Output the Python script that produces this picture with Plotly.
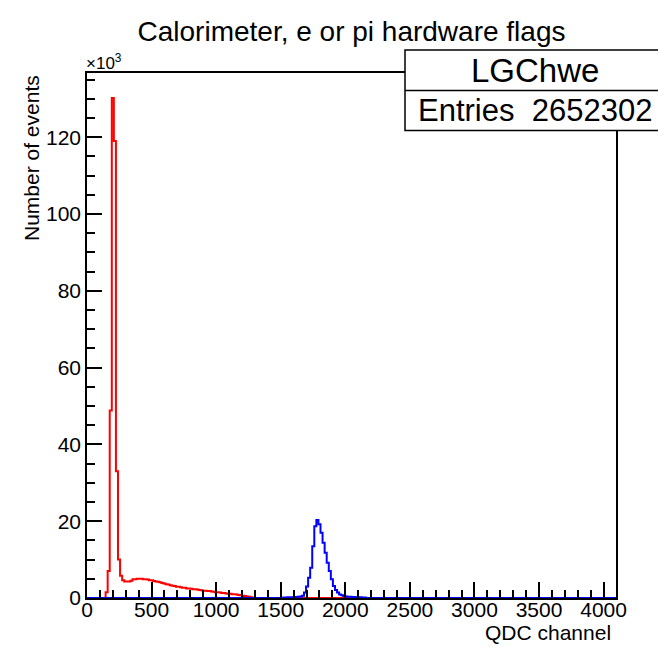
import plotly.graph_objects as go

# ---- data (counts in units of 10^3 events, 16-channel bins) ----
BIN_WIDTH = 16
N_BINS = 256  # 0 .. 4096 QDC channels

RED_START = 144
RED_COUNTS = [1.5, 7.0, 48.8, 130.2, 119.0, 33.0, 10.0, 5.8, 4.6, 4.3,
              4.3, 4.3, 4.5, 4.9, 4.9, 5.0, 5.0, 5.0, 4.9, 4.9,
              4.8, 4.6, 4.6, 4.4, 4.3, 4.2, 4.1, 3.9, 3.8, 3.6,
              3.5, 3.3, 3.2, 3.1, 2.9, 2.9, 2.8, 2.7, 2.7, 2.5,
              2.5, 2.4, 2.3, 2.3, 2.2, 2.1, 2.0, 1.9, 1.9, 1.8,
              1.8, 1.7, 1.6, 1.5, 1.5, 1.4, 1.3, 1.3, 1.2, 1.1,
              1.1, 1.0, 1.0, 0.9, 0.8, 0.7, 0.6, 0.5, 0.4, 0.3,
              0.2]

BLUE_START = 1520
BLUE_COUNTS = [0.15, 0.15, 0.2, 0.2, 0.2, 0.25, 0.25, 0.3, 0.4, 0.6,
               1.4, 3.0, 5.3, 7.9, 13.5, 18.7, 20.3, 19.2, 17.0, 14.4,
               11.8, 9.2, 7.0, 4.9, 3.1, 2.1, 1.4, 0.9, 0.7, 0.5,
               0.4, 0.3, 0.3, 0.25, 0.25, 0.2, 0.2, 0.2, 0.15, 0.15]

X_TICKS = [0, 500, 1000, 1500, 2000, 2500, 3000, 3500, 4000]
Y_TICKS = [0, 20, 40, 60, 80, 100, 120]

TITLE = "Calorimeter, e or pi hardware flags"
X_TITLE = "QDC channel"
Y_TITLE = "Number of events"
HIST_NAME = "LGChwe"
ENTRIES = "2652302"


def full_hist(start, counts):
    vals = [0.0] * N_BINS
    first = start // BIN_WIDTH
    for i, c in enumerate(counts):
        vals[first + i] = c
    edges = [i * BIN_WIDTH for i in range(N_BINS + 1)]
    return edges, vals + [vals[-1]]


FONT = "Liberation Sans, Arial, Helvetica, sans-serif"

fig = go.Figure()
for start, counts, color in [(RED_START, RED_COUNTS, "#ff0000"),
                             (BLUE_START, BLUE_COUNTS, "#0000ff")]:
    xe, ye = full_hist(start, counts)
    fig.add_trace(go.Scatter(x=xe, y=ye, mode="lines", line_shape="hv",
                             line=dict(color=color, width=2),
                             hoverinfo="skip", showlegend=False))

ymax = 1.05 * max(RED_COUNTS)

# page offset caused by default body margin
OFF = 8
W, H = 666 - OFF, 648 - OFF
FL, FR, FT, FB = 87, 616, 73, 598.5   # frame in page pixels
L = FL - OFF
R = W - (FR - OFF)
T = FT - OFF
B = H - (FB - OFF)
pw = W - L - R
ph = H - T - B


def px(x):
    return (x - OFF - L) / pw


def py(y):
    return (H - B - (y - OFF)) / ph


fig.update_layout(
    width=W, height=H, autosize=False,
    margin=dict(l=L, r=R, t=T, b=B, pad=0),
    paper_bgcolor="white", plot_bgcolor="white",
    font=dict(family=FONT, color="black", size=20),
    title=dict(text=TITLE, x=px(351.5), xref="paper", xanchor="center",
               y=1 - (31 - OFF) / H, yanchor="middle",
               font=dict(family=FONT, size=28, color="black")),
    xaxis=dict(range=[0, 4096], tickmode="array", tickvals=X_TICKS,
               ticktext=[str(v) for v in X_TICKS],
               ticks="inside", ticklen=16, tickwidth=1.5, tickcolor="black",
               minor=dict(ticks="inside", ticklen=8, tickwidth=1.5,
                          tickcolor="black", dtick=100, showgrid=False),
               showline=True, linecolor="black", linewidth=1.5, mirror=True,
               showgrid=False, zeroline=False, ticklabelstandoff=-8,
               tickfont=dict(family=FONT, size=21, color="black")),
    yaxis=dict(range=[0, ymax], tickmode="array", tickvals=Y_TICKS,
               ticktext=[str(v) for v in Y_TICKS],
               ticks="inside", ticklen=15, tickwidth=1.5, tickcolor="black",
               minor=dict(ticks="inside", ticklen=8, tickwidth=1.5,
                          tickcolor="black", dtick=5, showgrid=False),
               showline=True, linecolor="black", linewidth=1.5, mirror=True,
               showgrid=False, zeroline=False,
               tickfont=dict(family=FONT, size=21, color="black")),
)

# axis titles (ROOT style: right / top aligned)
fig.add_annotation(text=X_TITLE, xref="paper", yref="paper",
                   x=px(613), y=py(633), xanchor="right", yanchor="middle",
                   showarrow=False, font=dict(family=FONT, size=21))
fig.add_annotation(text=Y_TITLE, xref="paper", yref="paper",
                   x=px(31), y=py(73), xanchor="center", yanchor="top",
                   textangle=-90, showarrow=False, font=dict(family=FONT, size=21))
fig.add_annotation(text="\u00d710<sup>3</sup>", xref="paper", yref="paper",
                   x=px(84), y=py(62), xanchor="left", yanchor="middle",
                   showarrow=False, font=dict(family=FONT, size=17))

# stats box
bx0, bx1, by0, bdiv, by1 = 405, 664, 50, 90.5, 130.5
fig.add_shape(type="rect", xref="paper", yref="paper",
              x0=px(bx0), x1=px(bx1), y0=py(by1), y1=py(by0),
              fillcolor="white", line=dict(color="black", width=1.5),
              layer="above")
fig.add_shape(type="line", xref="paper", yref="paper",
              x0=px(bx0), x1=px(bx1), y0=py(bdiv), y1=py(bdiv),
              line=dict(color="black", width=1.5), layer="above")
fig.add_annotation(text=HIST_NAME, xref="paper", yref="paper",
                   x=px((bx0 + bx1) / 2), y=py((by0 + bdiv) / 2),
                   xanchor="center", yanchor="middle", showarrow=False,
                   font=dict(family=FONT, size=33))
fig.add_annotation(text="Entries  " + ENTRIES, xref="paper", yref="paper",
                   x=px((bx0 + bx1) / 2), y=py((bdiv + by1) / 2),
                   xanchor="center", yanchor="middle", showarrow=False,
                   font=dict(family=FONT, size=31))

fig.write_html("out.html")
